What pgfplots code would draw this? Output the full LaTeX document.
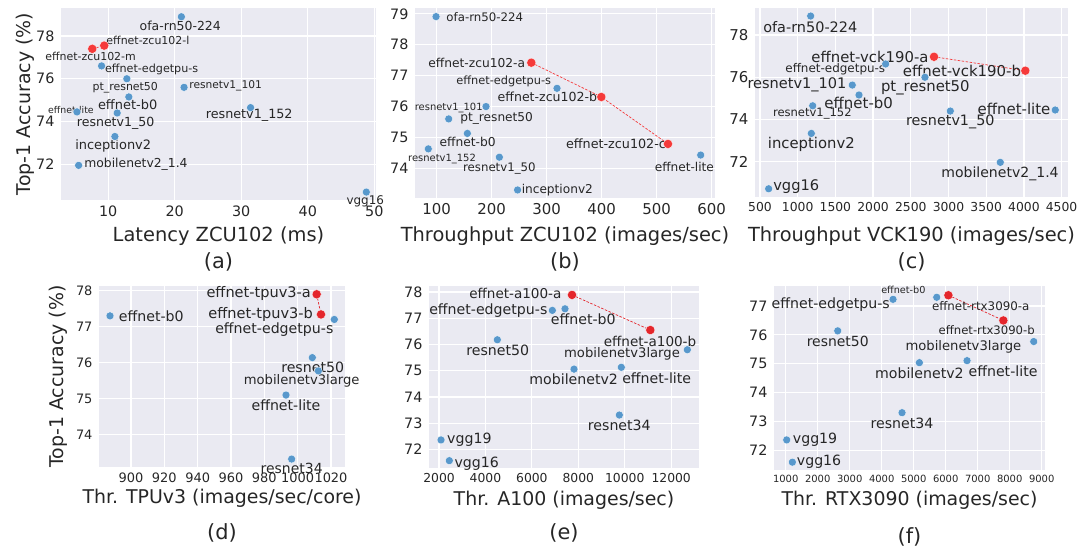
\documentclass[border=0pt]{standalone}
\usepackage{fontspec}
\setmainfont{DejaVu Sans}
\usepackage{pgfplots}
\pgfplotsset{compat=1.18}
\definecolor{bgc}{RGB}{234,234,242}
\definecolor{txt}{RGB}{38,38,38}
\definecolor{bluec}{RGB}{88,152,204}
\definecolor{redc}{RGB}{245,58,58}
\definecolor{redd}{RGB}{228,38,44}
\newcommand{\fs}[1]{\fontsize{#1}{#1}\selectfont}
\tikzset{lab/.style={inner sep=0pt, anchor=center, text=txt, font=\fs{#1}}}
\pgfplotsset{
  every axis/.append style={
    scale only axis, anchor=south west, clip=false,
    axis background/.style={fill=bgc},
    grid=major, major grid style={white, line width=1.2bp},
    axis line style={draw=none}, tick style={draw=none},
    scaled x ticks=false, scaled y ticks=false,
    /pgf/number format/assume math mode=true,
    /pgf/number format/1000 sep={},
    tick label style={text=txt},
    xticklabel style={yshift=-2bp},
    yticklabel style={xshift=-3bp},
    xlabel style={at={(axis description cs:0.5,0)}, anchor=center, text=txt},
    ylabel style={anchor=center, rotate=0, text=txt},
  },
  blue pts/.style={only marks, mark=*, mark size=4bp, mark options={fill=bluec, draw=white, line width=0.3bp}},
  red pts/.style={color=#1, dashed, dash pattern=on 2.5bp off 1.5bp, line width=0.7bp, mark=*, mark size=4.6bp, mark options={solid, fill=#1, draw=white, line width=0.3bp}},
}
\begin{document}
\begin{tikzpicture}
\useasboundingbox (0,0) rectangle (1083bp,548bp);
% ---------------- (a)
\begin{axis}[at={(61bp,348bp)}, width=315bp, height=192bp,
  xmin=2.9, xmax=50.26, ymin=70.33, ymax=79.31,
  xtick={10,20,30,40,50}, ytick={72,74,76,78},
  ticklabel style={font=\fs{14.4}},
  xlabel={\fs{19.5}Latency ZCU102 (ms)}, xlabel style={yshift=-36bp},
  ylabel={\fs{19}Top-1 Accuracy (\%)}, ylabel style={at={(axis description cs:-0.1143,0.5)}},
]
\addplot[blue pts] coordinates {(21.0,78.9) (9.0,76.6) (12.8,76.0) (21.4,75.6) (13.1,75.15) (5.3,74.45) (11.35,74.4) (31.4,74.65) (11.0,73.3) (5.55,71.95) (48.8,70.7)};
\addplot[red pts=redc] coordinates {(7.6,77.4) (9.4,77.55)};
\node[lab=12.5] at (axis cs:20.83,78.47) {ofa-rn50-224};
\node[lab=11] at (axis cs:15.97,77.78) {effnet-zcu102-l};
\node[lab=11] at (axis cs:7.35,77.06) {effnet-zcu102-m};
\node[lab=11.2] at (axis cs:16.53,76.44) {effnet-edgetpu-s};
\node[lab=11] at (axis cs:12.56,75.58) {pt\_resnet50};
\node[lab=10.7] at (axis cs:27.65,75.66) {resnetv1\_101};
\node[lab=13] at (axis cs:12.92,74.81) {effnet-b0};
\node[lab=9.4] at (axis cs:4.39,74.54) {effnet-lite};
\node[lab=12.6] at (axis cs:11.11,73.92) {resnetv1\_50};
\node[lab=12.8] at (axis cs:31.2,74.31) {resnetv1\_152};
\node[lab=13] at (axis cs:10.75,72.87) {inceptionv2};
\node[lab=12.4] at (axis cs:14.17,71.98) {mobilenetv2\_1.4};
\node[lab=12] at (axis cs:48.65,70.29) {vgg16};
\node[text=txt, font=\fs{21}] at (axis description cs:0.5,0) [yshift=-62bp] {(a)};
\end{axis}
% ---------------- (b)
\begin{axis}[at={(415bp,350bp)}, width=300bp, height=190bp,
  xmin=60.5, xmax=606, ymin=73.04, ymax=79.19,
  xtick={100,200,300,400,500,600}, ytick={74,75,76,77,78,79},
  xticklabel style={font=\fs{15}}, yticklabel style={font=\fs{14.4}},
  xlabel={\fs{19.5}Throughput ZCU102 (images/sec)}, xlabel style={yshift=-38bp},
]
\addplot[blue pts] coordinates {(98.8,78.91) (318.7,76.59) (189.6,76.0) (121.8,75.6) (155.7,75.13) (84.7,74.63) (213.9,74.36) (580,74.43) (247,73.3)};
\addplot[red pts=redc] coordinates {(272,77.42) (399.3,76.31) (520.5,74.79)};
\node[lab=11.8] at (axis cs:187.3,78.91) {ofa-rn50-224};
\node[lab=12.3] at (axis cs:172.7,77.42) {effnet-zcu102-a};
\node[lab=11.4] at (axis cs:221.8,76.81) {effnet-edgetpu-s};
\node[lab=12.6] at (axis cs:301.2,76.31) {effnet-zcu102-b};
\node[lab=10] at (axis cs:121.8,75.94) {resnetv1\_101};
\node[lab=12.2] at (axis cs:209,75.6) {pt\_resnet50};
\node[lab=12.3] at (axis cs:156.3,74.86) {effnet-b0};
\node[lab=10] at (axis cs:109.6,74.30) {resnetv1\_152};
\node[lab=11.8] at (axis cs:213.9,73.98) {resnetv1\_50};
\node[lab=12.8] at (axis cs:426,74.79) {effnet-zcu102-c};
\node[lab=12.2] at (axis cs:550.3,74.05) {effnet-lite};
\node[lab=12.2] at (axis cs:319.3,73.3) {inceptionv2};
\node[text=txt, font=\fs{21}] at (axis description cs:0.5,0) [yshift=-64bp] {(b)};
\end{axis}
% ---------------- (c)
\begin{axis}[at={(755bp,351bp)}, width=313bp, height=189bp,
  xmin=434, xmax=4585, ymin=70.33, ymax=79.28,
  xtick={500,1000,1500,2000,2500,3000,3500,4000,4500}, ytick={72,74,76,78},
  xticklabel style={font=\fs{12.4}}, yticklabel style={font=\fs{15}},
  xlabel={\fs{19.5}Throughput VCK190 (images/sec)}, xlabel style={yshift=-39bp},
]
\addplot[blue pts] coordinates {(1172,78.9) (2167,76.63) (2688,76.0) (1724,75.63) (1813,75.16) (1199,74.65) (3024,74.4) (4416,74.45) (1181,73.34) (3687,71.97) (615,70.72)};
\addplot[red pts=redc] coordinates {(2808,76.97) (4019,76.31)};
\node[lab=14.5] at (axis cs:1167,78.36) {ofa-rn50-224};
\node[lab=14.9] at (axis cs:1959,76.97) {effnet-vck190-a};
\node[lab=12] at (axis cs:1499,76.37) {effnet-edgetpu-s};
\node[lab=15] at (axis cs:3179,76.31) {effnet-vck190-b};
\node[lab=14.9] at (axis cs:2693,75.5) {pt\_resnet50};
\node[lab=14.6] at (axis cs:991,75.63) {resnetv1\_101};
\node[lab=15] at (axis cs:1809,74.79) {effnet-b0};
\node[lab=11.6] at (axis cs:1194,74.29) {resnetv1\_152};
\node[lab=14.4] at (axis cs:3024,73.89) {resnetv1\_50};
\node[lab=15] at (axis cs:3869,74.52) {effnet-lite};
\node[lab=14.9] at (axis cs:1181,72.82) {inceptionv2};
\node[lab=14.1] at (axis cs:3683,71.44) {mobilenetv2\_1.4};
\node[lab=14.7] at (axis cs:981,70.81) {vgg16};
\node[text=txt, font=\fs{21}] at (axis description cs:0.5,0) [yshift=-65bp] {(c)};
\end{axis}
% ---------------- (d)
\begin{axis}[at={(99bp,81bp)}, width=246bp, height=181bp,
  xmin=880.8, xmax=1028.4, ymin=73.1, ymax=78.13,
  xtick={900,920,940,960,980,1000,1020}, ytick={74,75,76,77,78},
  ticklabel style={font=\fs{13}},
  xlabel={\fs{19}Thr. TPUv3 (images/sec/core)}, xlabel style={yshift=-31bp},
  ylabel={\fs{19}Top-1 Accuracy (\%)}, ylabel style={at={(axis description cs:-0.1667,0.5)}},
]
\addplot[blue pts] coordinates {(887.4,77.3) (1022,77.2) (1008.8,76.14) (1012.4,75.77) (993,75.1) (996.4,73.32)};
\addplot[red pts=redd] coordinates {(1011.4,77.9) (1014,77.34)};
\node[lab=14.2] at (axis cs:912.2,77.30) {effnet-b0};
\node[lab=14.6] at (axis cs:976.6,77.91) {effnet-tpuv3-a};
\node[lab=14.6] at (axis cs:977.8,77.34) {effnet-tpuv3-b};
\node[lab=14.2] at (axis cs:986,76.93) {effnet-edgetpu-s};
\node[lab=14.2] at (axis cs:1009,75.86) {resnet50};
\node[lab=13.2] at (axis cs:1002.4,75.49) {mobilenetv3large};
\node[lab=14.2] at (axis cs:993,74.82) {effnet-lite};
\node[lab=14] at (axis cs:996.4,73.06) {resnet34};
\node[text=txt, font=\fs{21}] at (axis description cs:0.5,0) [yshift=-66bp] {(d)};
\end{axis}
% ---------------- (e)
\begin{axis}[at={(429bp,80bp)}, width=270bp, height=182bp,
  xmin=1569, xmax=13197, ymin=71.29, ymax=78.23,
  xtick={2000,4000,6000,8000,10000,12000}, ytick={72,73,74,75,76,77,78},
  xticklabel style={font=\fs{12.4}}, yticklabel style={font=\fs{14.4}},
  xlabel={\fs{19}Thr. A100 (images/sec)}, xlabel style={yshift=-32bp},
]
\addplot[blue pts] coordinates {(6881,77.30) (7426,77.36) (4512,76.18) (12695,75.80) (7814,75.06) (9852,75.13) (9766,73.31) (2086,72.36) (2445,71.57)};
\addplot[red pts=redd] coordinates {(7728,77.89) (11101,76.55)};
\node[lab=13.6] at (axis cs:5287,77.95) {effnet-a100-a};
\node[lab=14.2] at (axis cs:4124,77.30) {effnet-edgetpu-s};
\node[lab=14.2] at (axis cs:8215,76.96) {effnet-b0};
\node[lab=13.6] at (axis cs:11087,76.13) {effnet-a100-b};
\node[lab=14.2] at (axis cs:4527,75.79) {resnet50};
\node[lab=13.2] at (axis cs:9881,75.66) {mobilenetv3large};
\node[lab=14.2] at (axis cs:7800,74.68) {mobilenetv2};
\node[lab=14.2] at (axis cs:11375,74.71) {effnet-lite};
\node[lab=14.2] at (axis cs:9766,72.93) {resnet34};
\node[lab=14.2] at (axis cs:3306,72.38) {vgg19};
\node[lab=14.2] at (axis cs:3622,71.47) {vgg16};
\node[text=txt, font=\fs{21}] at (axis description cs:0.5,0) [yshift=-65bp] {(e)};
\end{axis}
% ---------------- (f)
\begin{axis}[at={(774bp,78bp)}, width=271bp, height=184bp,
  xmin=634, xmax=9103, ymin=71.33, ymax=77.69,
  xtick={1000,2000,3000,4000,5000,6000,7000,8000,9000}, ytick={72,73,74,75,76,77},
  xticklabel style={font=\fs{10}}, yticklabel style={font=\fs{14.4}},
  xlabel={\fs{19}Thr. RTX3090 (images/sec)}, xlabel style={yshift=-30bp},
]
\addplot[blue pts] coordinates {(5719,77.30) (4354,77.23) (2625,76.14) (8750,75.77) (5177,75.04) (6667,75.11) (4635,73.31) (1031,72.37) (1208,71.6)};
\addplot[red pts=redd] coordinates {(6083,77.37) (7802,76.50)};
\node[lab=9.7] at (axis cs:4677,77.55) {effnet-b0};
\node[lab=14.2] at (axis cs:2406,77.03) {effnet-edgetpu-s};
\node[lab=11.9] at (axis cs:7094,77.01) {effnet-rtx3090-a};
\node[lab=11.7] at (axis cs:7281,76.15) {effnet-rtx3090-b};
\node[lab=14] at (axis cs:2625,75.77) {resnet50};
\node[lab=13.2] at (axis cs:6552,75.59) {mobilenetv3large};
\node[lab=14.2] at (axis cs:5177,74.67) {mobilenetv2};
\node[lab=14.2] at (axis cs:7792,74.73) {effnet-lite};
\node[lab=14.2] at (axis cs:4635,72.94) {resnet34};
\node[lab=14.2] at (axis cs:1917,72.37) {vgg19};
\node[lab=14.2] at (axis cs:2042,71.62) {vgg16};
\node[text=txt, font=\fs{21}] at (axis description cs:0.5,0) [yshift=-67bp] {(f)};
\end{axis}
\end{tikzpicture}
\end{document}
